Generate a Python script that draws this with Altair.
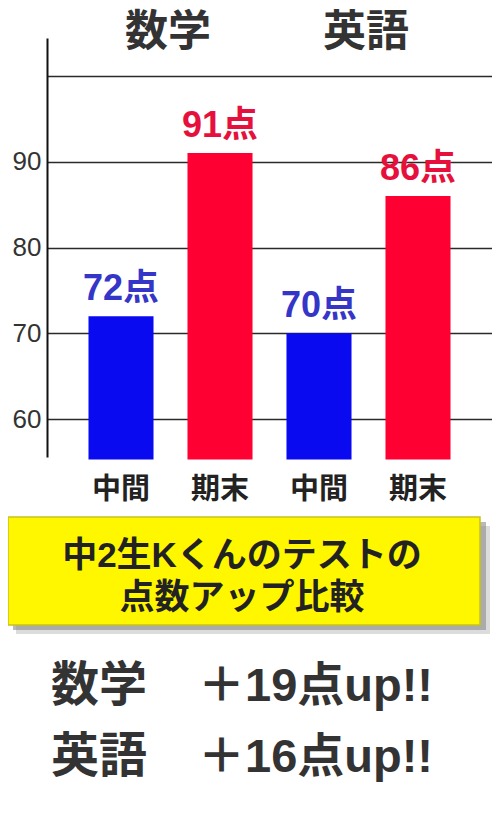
import altair as alt
import pandas as pd

subjects = ["数学", "英語"]
terms = ["中間", "期末"]
midterm = [72, 70]
final = [91, 86]
y_ticks = [60, 70, 80, 90, 100]
box_lines = ["中2生Kくんのテストの", "点数アップ比較"]

bar_colors = ["#0A0AF0", "#FF0033"]
label_colors = ["#3535C8", "#E5103C"]

rows = []
for i, s in enumerate(subjects):
    for j, (t, v) in enumerate(zip(terms, [midterm[i], final[i]])):
        rows.append({"key": f"{s}-{t}", "subject": s, "term": t, "score": v,
                     "label": f"{v}点", "lc": label_colors[j], "first": j == 0})
df = pd.DataFrame(rows)
keys = list(df["key"])

W, H = 445, 419
YMIN, YMAX = 55.6, 104.4
BAR_BASE = 55.3
CJK = "Liberation Sans, Noto Sans CJK JP"
DARK = "#333333"

x_enc = alt.X("key:N", sort=keys, axis=None,
              scale=alt.Scale(paddingInner=0.343, paddingOuter=0.419))
y_enc = alt.Y("score:Q", scale=alt.Scale(domain=[YMIN, YMAX], zero=False, nice=False),
              axis=alt.Axis(values=y_ticks, title=None, grid=True, gridColor="#2a2a2a",
                            gridWidth=1.6, ticks=False, domain=True, domainColor="#111111",
                            domainWidth=2, labelFontSize=26, labelColor=DARK,
                            labelFont="Liberation Sans", labelPadding=6,
                            labelExpr="datum.value == 100 ? '' : datum.label"))

bars = alt.Chart(df).mark_bar().encode(
    x=x_enc, y=y_enc, y2=alt.datum(BAR_BASE),
    color=alt.Color("term:N", sort=terms, legend=None,
                    scale=alt.Scale(domain=terms, range=bar_colors)),
)

bar_labels = alt.Chart(df).mark_text(baseline="bottom", dy=-8, fontSize=36,
                                     fontWeight="bold", font=CJK).encode(
    x=x_enc, y=alt.Y("score:Q"), text="label:N",
    color=alt.Color("lc:N", scale=None),
)

headers = alt.Chart(df).transform_filter("datum.first").mark_text(
    baseline="middle", fontSize=43, fontWeight="bold", font=CJK, color=DARK, dx=47).encode(
    x=x_enc, y=alt.value(-5), text="subject:N")

term_labels = alt.Chart(df).mark_text(baseline="middle", fontSize=29, fontWeight="bold",
                                      font=CJK, color="#222222").encode(
    x=x_enc, y=alt.value(452), text="term:N")

box_df = pd.DataFrame({"k": [0]})
shadow_soft = alt.Chart(box_df).mark_rect(color="#9a9a9a", opacity=0.35).encode(
    x=alt.value(-31), x2=alt.value(443), y=alt.value(488), y2=alt.value(596))
shadow = alt.Chart(box_df).mark_rect(color="#8a8a8a", opacity=0.6).encode(
    x=alt.value(-34), x2=alt.value(439), y=alt.value(484), y2=alt.value(592))
box = alt.Chart(box_df).mark_rect(color="#FFF700", stroke="#C9C21A", strokeWidth=1.5).encode(
    x=alt.value(-39), x2=alt.value(433), y=alt.value(479), y2=alt.value(587))

layers = [shadow_soft, shadow, box, bars, bar_labels, headers, term_labels]

for k, line in enumerate(box_lines):
    ldf = pd.DataFrame({"t": [line]})
    layers.append(alt.Chart(ldf).mark_text(baseline="middle", align="center", fontSize=35,
                                           fontWeight="bold", font=CJK, color="#222222").encode(
        x=alt.value(195), y=alt.value(518 + 42 * k), text="t:N"))

for k, s in enumerate(subjects):
    gain = final[k] - midterm[k]
    yy = 649 + 71 * k
    sdf = pd.DataFrame({"s": [s], "g": [f"＋{gain}点up!!"]})
    layers.append(alt.Chart(sdf).mark_text(baseline="middle", align="left", fontSize=48,
                                           fontWeight="bold", font="Noto Sans CJK JP",
                                           color=DARK).encode(
        x=alt.value(4), y=alt.value(yy), text="s:N"))
    layers.append(alt.Chart(sdf).mark_text(baseline="middle", align="left", fontSize=47,
                                           fontWeight="bold", font=CJK,
                                           color=DARK).encode(
        x=alt.value(151), y=alt.value(yy), text="g:N"))

chart = alt.layer(*layers).properties(
    width=W, height=H,
    autosize=alt.AutoSizeParams(type="none"),
    padding={"left": 39, "top": 30, "right": 0, "bottom": 343},
).configure_view(stroke=None)

chart.save("out.html", embed_options={"renderer": "svg", "actions": False})
